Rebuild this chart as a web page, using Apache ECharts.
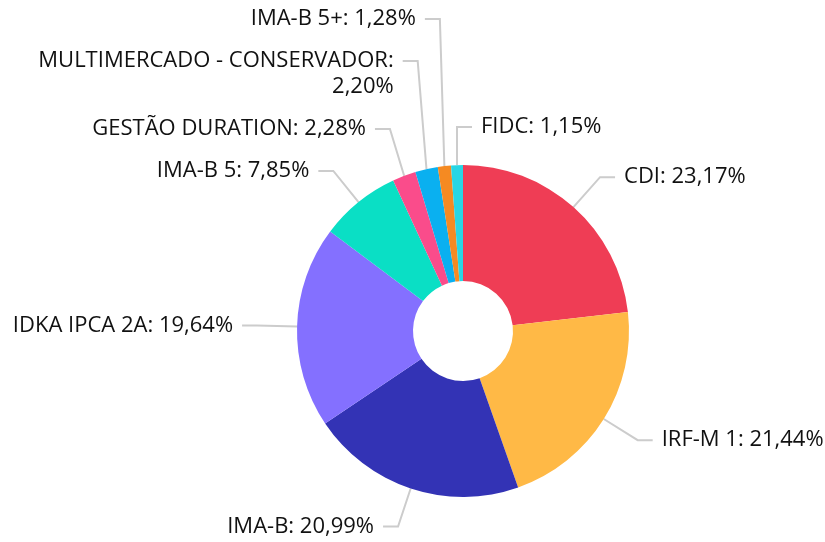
<!DOCTYPE html>
<html><head><meta charset="utf-8">
<script src="https://cdn.jsdelivr.net/npm/echarts@6/dist/echarts.min.js"></script>
<style>html,body{margin:0;padding:0;background:#fff}#c{width:825px;height:542px}</style>
</head><body><div id="c"></div>
<script>
const categories = ['CDI','IRF-M 1','IMA-B','IDKA IPCA 2A','IMA-B 5','GESTÃO DURATION','MULTIMERCADO - CONSERVADOR','IMA-B 5+','FIDC'];
const values = [23.17,21.44,20.99,19.64,7.85,2.28,2.20,1.28,1.15];
const colors = ['#EF3D55','#FFB946','#3333B5','#8470FF','#0ADFC5','#FA4C8B','#0AB0F0','#F58A22','#28D6E4'];
const flipped = 'FIDC';

const CX = 463, CY = 331, R = 166, R0 = 50, LEN = 40, LEN2 = 15, GAP = 9, LH = 26, H = 42;
const fmt = p => p.name + ':' + (p.name.length > 20 ? '\n' : ' ') + p.value.toFixed(2).replace('.', ',') + '%';
const nLines = categories.map(n => n.length > 20 ? 2 : 1);

// mid-angles (degrees, math convention) derived from the data
const total = values.reduce((a, b) => a + b, 0);
const mids = []; let acc = 0;
values.forEach(v => { mids.push(90 - (acc + v / 2) / total * 360); acc += v; });
// stack the crowded upper-left labels upwards
const targetY = {};
const leftTop = categories.map((n, i) => i).filter(i => {
  const a = mids[i] * Math.PI / 180;
  return Math.cos(a) < 0 && Math.sin(a) > 0 && categories[i] !== flipped;
}).sort((a, b) => Math.sin(mids[a] * Math.PI / 180) - Math.sin(mids[b] * Math.PI / 180));
let prevTop = Infinity;
leftTop.forEach(i => {
  const ny = CY - (R + LEN) * Math.sin(mids[i] * Math.PI / 180);
  const y = Math.min(ny, prevTop - H / 2 - LH * (nLines[i] - 1));
  targetY[i] = y; prevTop = y - H / 2;
});

const chart = echarts.init(document.getElementById('c'));
chart.setOption({
  animation: false,
  color: colors,
  series: [{
    type: 'pie',
    center: [CX, CY],
    radius: [R0, R],
    startAngle: 90,
    clockwise: true,
    avoidLabelOverlap: false,
    label: {show: true, fontFamily: 'Open Sans', fontSize: 22, lineHeight: LH, color: '#111',
      overflow: 'none', distanceToLabelLine: GAP, formatter: fmt},
    labelLine: {length: LEN, length2: LEN2, lineStyle: {color: '#cccccc', width: 2}},
    labelLayout: function (p) {
      const i = p.dataIndex, pts = p.labelLinePoints;
      if (!pts) return;
      if (categories[i] === flipped) {
        const e = pts[0], y = e[1] - 38;
        return {x: e[0] + LEN2 + GAP, y: y, align: 'left', verticalAlign: 'middle',
          labelLinePoints: [e, [e[0], y], [e[0] + LEN2, y]]};
      }
      if (targetY[i] !== undefined) {
        const y = targetY[i], ex = pts[1][0], endx = pts[2][0];
        return {x: endx - GAP, y: y + LH * (nLines[i] - 1) / 2, align: 'right', verticalAlign: 'middle',
          labelLinePoints: [pts[0], [ex, y], [endx, y]]};
      }
    },
    data: categories.map((n, i) => ({name: n, value: values[i]}))
  }]
});
</script></body></html>
